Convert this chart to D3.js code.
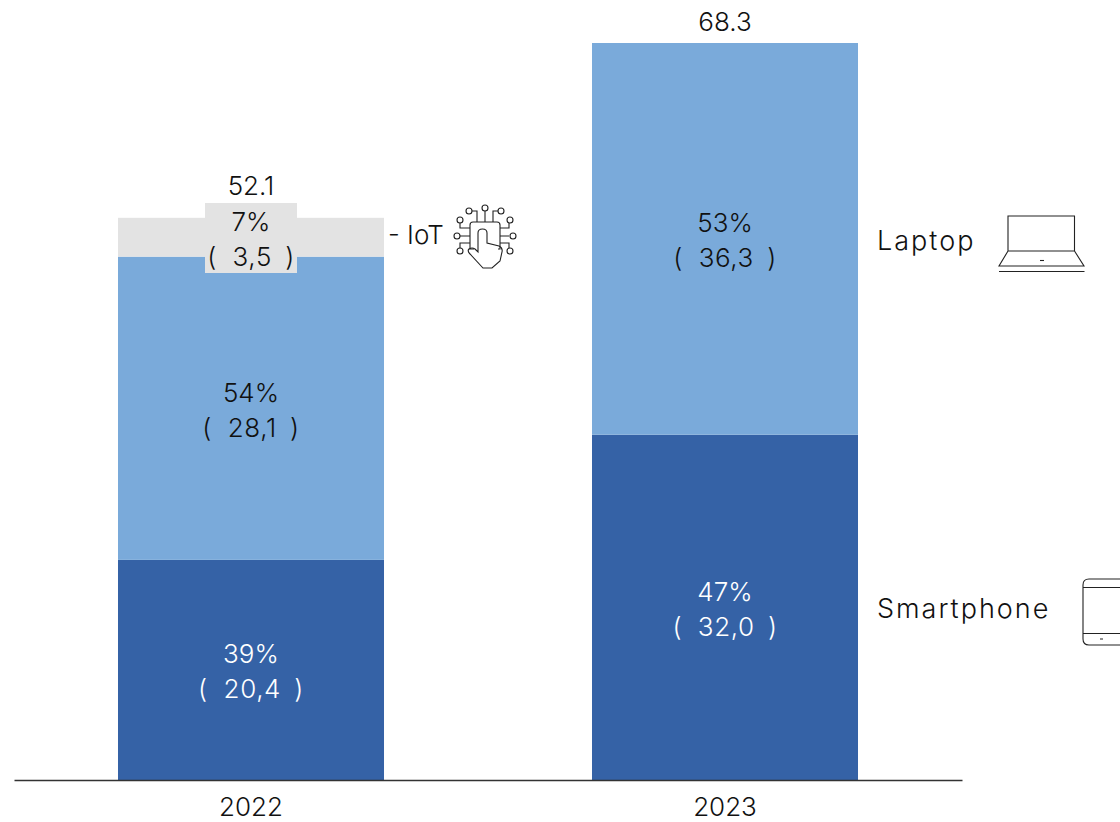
<!DOCTYPE html>
<html><head><meta charset="utf-8">
<script src="https://cdn.jsdelivr.net/npm/d3@7"></script>
<style>html,body{margin:0;padding:0;background:#fff}svg{display:block}text{font-family:"Inter",sans-serif;font-weight:300}</style>
</head><body><svg id="c" width="1120" height="822"></svg>
<script>
const years = ["2022", "2023"];
const seriesNames = ["Smartphone", "Laptop", "IoT"];
const smartphone = [20.4, 32.0];
const laptop = [28.1, 36.3];
const iot = [3.6, 0];
const totals = ["52.1", "68.3"];
const shares = [["39%", "47%"], ["54%", "53%"], ["7%", null]];
const valueLabels = [["20,4", "32,0"], ["28,1", "36,3"], ["3,5", null]];
const colors = ["#3562a6", "#7aaada", "#e3e3e3"];
const textColors = ["#fff", "#111", "#111"];

const svg = d3.select("#c");
const baseY = 780, fs = 26;
const x = d3.scaleBand().domain(years).range([14, 962]).paddingInner(0.4388).paddingOuter(0.2194);
const y = d3.scaleLinear().domain([0, 68.3]).range([baseY, 43]);
const values = [smartphone, laptop, iot];
const stacked = d3.stack().keys([0, 1, 2]).value((d, k) => values[k][d])(years.map((_, i) => i));

stacked.forEach((s, k) => {
  svg.append("g").selectAll("rect").data(s.filter(d => d[1] > d[0])).join("rect")
    .attr("x", d => x(years[d.data])).attr("width", x.bandwidth())
    .attr("y", d => y(d[1])).attr("height", d => y(d[0]) - y(d[1]))
    .attr("fill", colors[k]);
});

const cx = i => x(years[i]) + x.bandwidth() / 2;
svg.append("rect").attr("x", cx(0) - 46).attr("y", 203).attr("width", 92).attr("height", 70).attr("fill", colors[2]);

stacked.forEach((s, k) => {
  s.forEach(d => {
    if (!shares[k][d.data]) return;
    const my = (y(d[0]) + y(d[1])) / 2;
    const g = svg.append("g").attr("fill", textColors[k]).attr("text-anchor", "middle").attr("font-size", fs);
    g.append("text").attr("x", cx(d.data)).attr("y", my - 6.5).text(shares[k][d.data]);
    g.append("text").attr("x", cx(d.data)).attr("y", my + 28.5).attr("letter-spacing", 0.6).text("( \u00A0" + valueLabels[k][d.data] + "\u00A0\u2009)");
  });
});

years.forEach((yr, i) => {
  const top = d3.sum(values, v => v[i]);
  svg.append("text").attr("x", cx(i)).attr("y", y(top) - (i ? 12 : 23)).attr("text-anchor", "middle").attr("font-size", fs).attr("fill", "#111").text(totals[i]);
});

const axis = d3.axisBottom(x).tickSize(0).tickPadding(18);
const ag = svg.append("g").attr("transform", `translate(0,${baseY})`).call(axis);
ag.select(".domain").attr("stroke", "#333").attr("stroke-width", 1.3);
ag.selectAll("text").attr("font-size", fs).attr("fill", "#111").style("font-family", '"Inter",sans-serif');

const side = svg.append("g").attr("font-size", 27).attr("fill", "#111");
side.append("text").attr("x", 388).attr("y", 244).attr("font-size", 26).text("- " + seriesNames[2]);
side.append("text").attr("x", 877).attr("y", 250).attr("letter-spacing", 2).text(seriesNames[1]);
side.append("text").attr("x", 877).attr("y", 618).attr("letter-spacing", 2).text(seriesNames[0]);

const ic = svg.append("g").attr("fill", "none").attr("stroke", "#222").attr("stroke-width", 1.1);
ic.append("path").attr("d", "M1008 251V216H1074.5V251M1008 251H1074.5L1084 266H999ZM999 271.5H1084.5");
ic.append("path").attr("d", "M1040 260.5H1044");
ic.append("path").attr("d", "M1120 579H1089Q1083 579 1083 585V639Q1083 645 1089 645H1120M1083 587.5H1120M1083 633.5H1120M1100 639H1103");
// IoT icon
ic.append("path").attr("d", "M474 249H470V225Q470 222 473 222H497Q500 222 500 225V249H498");
ic.append("path").attr("d", "M478 252V233Q478 229 482.5 229Q487 229 487 233V243L499 246Q503 248 502 252L500 261L492 268Q487 268 483 268L470 254Q467 251 469 249Q472 247 475 249L478 252Z");
ic.append("path").attr("d", "M485 211V222M472 211H477V222M498 211H493V222M460 223V228H470M460 236H470M460 248V243H470M509 223V228H500M509 236H500M509 248V243H500");
const dots = [[485,208],[469,211],[501,211],[460,220],[457,236],[460,251],[510,220],[513,236],[510,251]];
dots.forEach(p => ic.append("circle").attr("cx",p[0]).attr("cy",p[1]).attr("r",3).attr("fill","#fff"));
</script></body></html>
